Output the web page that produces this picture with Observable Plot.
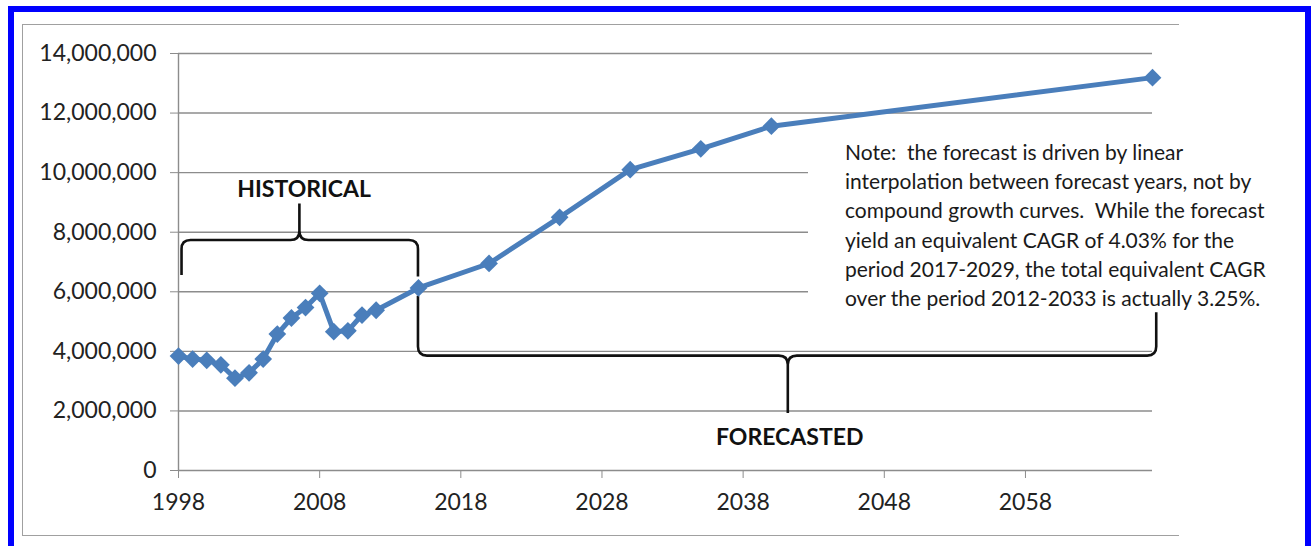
<!DOCTYPE html>
<html>
<head>
<meta charset="utf-8">
<script src="https://cdn.jsdelivr.net/npm/d3@7"></script>
<script src="https://cdn.jsdelivr.net/npm/@observablehq/plot@0.6"></script>
<style>
  html, body { margin: 0; padding: 0; background: #fff; width: 1311px; height: 546px; overflow: hidden; }
  #wrap { position: relative; width: 1311px; height: 546px; }
  #chart svg { display: block; }
  #frame {
    position: absolute; left: 22px; top: 24px; width: 1157px; height: 512px;
    border-left: 1.5px solid #a0a0a0; border-top: 1.5px solid #a0a0a0; border-bottom: 1.5px solid #a0a0a0;
    box-sizing: border-box; pointer-events: none;
  }
  #note {
    position: absolute; left: 808px; top: 130px; width: 490px; height: 178px;
    background: #fff; padding: 7px 0 0 37px; box-sizing: border-box;
    font-family: Lato, "Open Sans", sans-serif; font-size: 21px; line-height: 29.2px;
    color: #1a1a1a; white-space: pre;
  }
  #border {
    position: absolute; left: 8px; top: 6px; width: 1303px; height: 580px;
    border: 6px solid #0000ff; box-sizing: border-box; pointer-events: none;
  }
</style>
</head>
<body>
<div id="wrap">
  <div id="chart"></div>
  <div id="frame"></div>
  <div id="note"></div>
  <div id="border"></div>
</div>
<script>
// Annual passenger counts: historical 1998–2012, then forecast years
const years = [1998, 1999, 2000, 2001, 2002, 2003, 2004, 2005, 2006, 2007, 2008, 2009, 2010, 2011, 2012,
               2015, 2020, 2025, 2030, 2035, 2040, 2067];
const passengers = [3840000, 3740000, 3700000, 3550000, 3100000, 3280000, 3740000, 4580000, 5120000, 5470000,
                    5950000, 4660000, 4690000, 5220000, 5380000,
                    6130000, 6950000, 8500000, 10100000, 10800000, 11560000, 13190000];

const yTicks = [0, 2000000, 4000000, 6000000, 8000000, 10000000, 12000000, 14000000];
const xTicks = [1998, 2008, 2018, 2028, 2038, 2048, 2058];

// Curly braces marking the two periods (x in years, y in passengers)
const braceNames = ["HISTORICAL", "FORECASTED"];
const braceStart = [1998.25, 2015.0];
const braceEnd   = [2015.0, 2067.3];
const braceTip   = [2006.6, 2041.2];
const braceLevel = [7720000, 3840000];
const braceTipValue   = [8950000, 1910000];
const braceStartValue = [6550000, 5850000];
const braceEndValue   = [6500000, 5300000];
const labelX = [2006.9, 2041.3];
const labelY = [9430000, 1110000];

const noteLines = [
  "Note:  the forecast is driven by linear",
  "interpolation between forecast years, not by",
  "compound growth curves.  While the forecast",
  "yield an equivalent CAGR of 4.03% for the",
  "period 2017-2029, the total equivalent CAGR",
  "over the period 2012-2033 is actually 3.25%."
];

const data = years.map((year, i) => ({year, value: passengers[i]}));
const labels = braceNames.map((text, i) => ({text, x: labelX[i], y: labelY[i]}));

const blue = "#4A7EBB";
const gridColor = "#8c8c8c";

const plot = Plot.plot({
  width: 1311,
  height: 546,
  marginLeft: 178,
  marginRight: 159,
  marginTop: 53,
  marginBottom: 76,
  x: {domain: [1998, 2067]},
  y: {domain: [0, 14000000]},
  style: {fontFamily: "Lato, 'Open Sans', sans-serif", fontSize: "23px", color: "#222", background: "transparent"},
  marks: [
    Plot.gridY(yTicks, {stroke: gridColor, strokeOpacity: 1, strokeWidth: 1.4}),
    Plot.ruleX([1998], {y1: 0, y2: 14000000, stroke: gridColor, strokeWidth: 1.4}),
    Plot.axisY(yTicks, {tickSize: 8, tickPadding: 14, tickFormat: d3.format(","), stroke: gridColor,
                        fill: "#222", fontSize: 23, label: null}),
    Plot.axisX(xTicks, {tickSize: 8, tickPadding: 15, tickFormat: d => String(d), stroke: gridColor,
                        fill: "#222", fontSize: 23, label: null}),
    Plot.line(data, {x: "year", y: "value", stroke: blue, strokeWidth: 5}),
    Plot.dot(data, {x: "year", y: "value", symbol: "diamond2", r: 8, fill: blue}),
    Plot.text(labels, {x: "x", y: "y", text: "text", fontWeight: "bold", fontSize: 23, fill: "#111"})
  ]
});

document.getElementById("chart").appendChild(plot);

// Draw the braces with the plot's own scales
const xs = plot.scale("x"), ys = plot.scale("y");
const fx = d3.scaleLinear(xs.domain, xs.range);
const fy = d3.scaleLinear(ys.domain, ys.range);

function bracePath(i) {
  const X1 = fx(braceStart[i]), X2 = fx(braceEnd[i]), XC = fx(braceTip[i]);
  const YL = fy(braceLevel[i]), YT = fy(braceTipValue[i]);
  const Y1 = fy(braceStartValue[i]), Y2 = fy(braceEndValue[i]);
  const e = Math.sign(Y1 - YL), t = Math.sign(YT - YL), r = 9;
  return `M${X1},${Y1} L${X1},${YL + e * r} Q${X1},${YL} ${X1 + r},${YL}` +
         ` L${XC - r},${YL} Q${XC},${YL} ${XC},${YL + t * r} L${XC},${YT}` +
         ` M${XC},${YT} L${XC},${YL + t * r} Q${XC},${YL} ${XC + r},${YL}` +
         ` L${X2 - r},${YL} Q${X2},${YL} ${X2},${YL + e * r} L${X2},${Y2}`;
}

const svg = d3.select(plot);
braceNames.forEach((_, i) => {
  svg.insert("path", "g[aria-label='line']")
    .attr("d", bracePath(i))
    .attr("fill", "none")
    .attr("stroke", "#111")
    .attr("stroke-width", 2.6)
    .attr("stroke-linejoin", "round");
});

document.getElementById("note").textContent = noteLines.join("\n");
</script>
</body>
</html>
